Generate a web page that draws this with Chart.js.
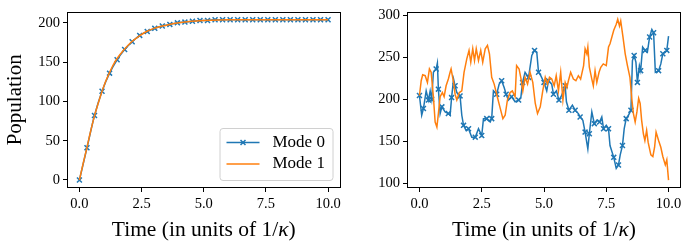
<!DOCTYPE html>
<html>
<head>
<meta charset="utf-8">
<script src="https://cdn.jsdelivr.net/npm/chart.js@4.4.0/dist/chart.umd.min.js"></script>
<style>
  html, body { margin: 0; padding: 0; background: #fff; }
  #wrap { position: relative; width: 692px; height: 248px; }
  canvas { position: absolute; top: 0; }
</style>
</head>
<body>
<div id="wrap">
  <canvas id="leftChart" width="346" height="248" style="left:0"></canvas>
  <canvas id="rightChart" width="346" height="248" style="left:346px"></canvas>
</div>
<script>
// data

// left panel: mean populations
const meanTimes0 = [0, 0.303, 0.606, 0.909, 1.212, 1.515, 1.818, 2.121, 2.424, 2.727,
  3.030, 3.333, 3.636, 3.939, 4.242, 4.545, 4.848, 5.152, 5.455, 5.758,
  6.061, 6.364, 6.667, 6.970, 7.273, 7.576, 7.879, 8.182, 8.485, 8.788,
  9.091, 9.394, 9.697, 10.0];
const meanMode0 = [0, 41, 82, 113, 136, 153, 166, 176, 184, 189,
  193, 196, 198, 200, 201, 202, 203, 203, 204, 204,
  204, 204, 204, 204, 204, 204, 204, 204, 204, 204,
  204, 204, 204, 204];
const meanTimes1 = [0, 0.15, 0.3, 0.45, 0.6, 0.75, 0.9, 1.05, 1.2, 1.35,
  1.5, 1.8, 2.1, 2.4, 2.7, 3.0, 3.5, 4.0, 4.5, 5.0,
  6.0, 7.0, 8.0, 9.0, 10.0];
const meanMode1 = [0, 21, 41, 62, 81, 97, 112, 125, 136, 146,
  154, 166, 176, 183, 189, 193, 197, 200, 202, 203,
  204, 204, 204, 204, 204];

// right panel: one stochastic run
const runTimes0 = [0, 0.09, 0.16, 0.27, 0.36, 0.43, 0.49, 0.56, 0.67, 0.72,
  0.76, 0.83, 0.9, 1.03, 1.16, 1.23, 1.29, 1.37, 1.43, 1.5,
  1.63, 1.7, 1.77, 1.87, 1.97, 2.1, 2.24, 2.37, 2.5, 2.57,
  2.7, 2.84, 2.9, 2.97, 3.1, 3.2, 3.3, 3.4, 3.48, 3.57,
  3.7, 3.84, 3.98, 4.07, 4.14, 4.24, 4.38, 4.51, 4.62, 4.71,
  4.78, 4.87, 5.0, 5.11, 5.18, 5.31, 5.38, 5.5, 5.6, 5.7,
  5.85, 5.9, 6.0, 6.14, 6.25, 6.38, 6.45, 6.56, 6.65, 6.76,
  6.82, 6.92, 7.02, 7.12, 7.23, 7.32, 7.39, 7.5, 7.59, 7.65,
  7.8, 7.9, 7.99, 8.06, 8.15, 8.22, 8.3, 8.39, 8.49, 8.55,
  8.62, 8.69, 8.75, 8.83, 8.88, 8.96, 9.06, 9.15, 9.24, 9.33,
  9.4, 9.47, 9.6, 9.69, 9.77, 9.87, 9.93, 10.0];
const runMode0 = [204.5, 181, 189, 210, 199, 210, 200, 232, 236, 243,
  212, 183, 191, 185, 183, 181, 202, 224, 216, 208,
  204, 181, 169, 163, 165, 155, 155, 165, 157, 177,
  177, 173, 177, 210, 206, 218, 222, 214, 206, 199,
  203, 197, 199, 202, 220, 232, 226, 252, 258, 256,
  232, 228, 220, 210, 222, 218, 206, 210, 199, 204,
  216, 197, 187, 193, 187, 183, 179, 175, 161, 141,
  159, 185, 171, 175, 173, 179, 165, 169, 165, 145,
  131, 118, 122, 134, 145, 165, 177, 181, 187, 246,
  252, 244, 220, 240, 234, 262, 258, 256, 274, 283,
  279, 232, 234, 242, 254, 256, 258, 275];
const runTimes1 = [0, 0.07, 0.13, 0.23, 0.32, 0.4, 0.47, 0.56, 0.63, 0.7,
  0.76, 0.83, 0.92, 0.99, 1.07, 1.16, 1.23, 1.27, 1.37, 1.43,
  1.5, 1.6, 1.7, 1.79, 1.9, 1.99, 2.06, 2.14, 2.21, 2.28,
  2.37, 2.46, 2.54, 2.64, 2.73, 2.81, 2.9, 3.0, 3.1, 3.21,
  3.35, 3.44, 3.53, 3.64, 3.73, 3.84, 3.9, 4.0, 4.08, 4.15,
  4.24, 4.34, 4.44, 4.55, 4.65, 4.74, 4.85, 4.95, 5.05, 5.14,
  5.22, 5.31, 5.41, 5.49, 5.58, 5.67, 5.76, 5.85, 5.92, 5.98,
  6.07, 6.18, 6.28, 6.38, 6.47, 6.59, 6.65, 6.72, 6.76, 6.82,
  6.92, 6.98, 7.05, 7.12, 7.21, 7.28, 7.38, 7.5, 7.59, 7.65,
  7.8, 7.9, 7.96, 8.03, 8.08, 8.17, 8.26, 8.35, 8.45, 8.53,
  8.59, 8.66, 8.73, 8.8, 8.86, 8.92, 8.99, 9.05, 9.12, 9.18,
  9.29, 9.37, 9.44, 9.5, 9.6, 9.69, 9.77, 9.87, 9.93, 10.0];
const runMode1 = [204.5, 222, 229, 228, 220, 236, 232, 203, 173, 167,
  183, 203, 208, 203, 216, 224, 232, 236, 220, 206,
  199, 208, 210, 232, 248, 258, 244, 260, 246, 260,
  246, 258, 244, 260, 264, 254, 226, 218, 206, 193,
  177, 181, 199, 208, 210, 203, 240, 236, 224, 210,
  226, 218, 232, 220, 195, 183, 191, 210, 226, 218,
  226, 224, 216, 228, 210, 232, 199, 220, 214, 222,
  232, 224, 222, 228, 224, 240, 260, 254, 262, 238,
  224, 216, 234, 220, 232, 238, 242, 240, 262, 266,
  282, 289, 295, 287, 293, 274, 254, 240, 226, 199,
  183, 173, 185, 201, 195, 175, 159, 151, 163, 149,
  134, 132, 143, 161, 151, 143, 132, 122, 128, 104];

const timeTicks = [0, 2.5, 5, 7.5, 10];
const leftPopTicks = [0, 50, 100, 150, 200];
const rightPopTicks = [100, 150, 200, 250, 300];
const seriesNames = ['Mode 0', 'Mode 1'];

const BLUE = '#1f77b4';
const ORANGE = '#ff7f0e';
const SERIF = '"Liberation Serif", "DejaVu Serif", serif';

function pts(xs, ys){ return xs.map((x, i) => ({x, y: ys[i]})); }

// box round the plot area + x title with italic kappa
const framePlugin = {
  id: 'frame',
  afterDraw(chart){
    const ctx = chart.ctx, a = chart.chartArea;
    ctx.save();
    ctx.strokeStyle = '#000';
    ctx.lineWidth = 1;
    ctx.strokeRect(Math.round(a.left) + 0.5, Math.round(a.top) + 0.5,
      Math.round(a.right - a.left) - 1, Math.round(a.bottom - a.top) - 1);

    const parts = [['Time (in units of 1/', 'normal'], ['\u03ba', 'italic'], [')', 'normal']];
    let total = 0;
    const widths = parts.map(p => {
      ctx.font = `${p[1]} 21.5px ${SERIF}`;
      const w = ctx.measureText(p[0]).width;
      total += w;
      return w;
    });
    let x = (a.left + a.right) / 2 - total / 2;
    ctx.fillStyle = '#000';
    ctx.textBaseline = 'middle';
    ctx.textAlign = 'left';
    parts.forEach((p, i) => {
      ctx.font = `${p[1]} 21.5px ${SERIF}`;
      ctx.fillText(p[0], x, 230);
      x += widths[i];
    });
    ctx.restore();
  }
};

// legend in lower right corner of the left panel
const legendPlugin = {
  id: 'boxLegend',
  afterDraw(chart){
    if(!chart.options.plugins.boxLegend || !chart.options.plugins.boxLegend.show) return;
    const ctx = chart.ctx, a = chart.chartArea;
    const w = 113, h = 52;
    const bx = a.right - 8 - w, by = a.bottom - 8 - h;
    ctx.save();
    ctx.beginPath();
    ctx.roundRect(bx + 0.5, by + 0.5, w, h, 3);
    ctx.fillStyle = 'rgba(255,255,255,0.8)';
    ctx.fill();
    ctx.strokeStyle = '#d0d0d0';
    ctx.lineWidth = 1;
    ctx.stroke();
    const rows = [{c: BLUE, y: by + 14.5, mark: true}, {c: ORANGE, y: by + 36, mark: false}];
    rows.forEach((r, i) => {
      ctx.strokeStyle = r.c;
      ctx.lineWidth = 1.5;
      ctx.beginPath();
      ctx.moveTo(bx + 7, r.y);
      ctx.lineTo(bx + 40, r.y);
      ctx.stroke();
      if(r.mark){
        Chart.helpers.drawPoint(ctx, {pointStyle: 'crossRot', radius: 3.5, borderWidth: 1.5}, bx + 23.5, r.y);
      }
      ctx.fillStyle = '#000';
      ctx.font = `17px ${SERIF}`;
      ctx.textBaseline = 'middle';
      ctx.fillText(seriesNames[i], bx + 53, r.y);
    });
    ctx.restore();
  }
};

function axisTicks(values){
  return (scale) => { scale.ticks = values.map(v => ({value: v})); };
}

function makeOptions(yMin, yMax, yTicks, yWidth, padLeft, padRight, showTitle, showLegend){
  const tickFont = {family: SERIF, size: 14.5};
  const grid = {display: true, drawOnChartArea: false, drawTicks: true, tickLength: 4,
    color: '#000', tickColor: '#000', tickWidth: 1};
  return {
    responsive: false,
    animation: false,
    devicePixelRatio: 1,
    layout: {padding: {top: 11, right: padRight, left: padLeft, bottom: 0}},
    plugins: {
      legend: {display: false},
      tooltip: {enabled: false},
      boxLegend: {show: showLegend}
    },
    scales: {
      x: {
        type: 'linear', min: -0.5, max: 10.5,
        afterBuildTicks: axisTicks(timeTicks),
        afterFit: (s) => { s.height = 60; },
        grid, border: {display: false},
        ticks: {font: tickFont, color: '#000', padding: 3, maxRotation: 0,
          callback: v => v.toFixed(1)}
      },
      y: {
        type: 'linear', min: yMin, max: yMax,
        afterBuildTicks: axisTicks(yTicks),
        afterFit: (s) => { s.width = yWidth; },
        grid, border: {display: false},
        ticks: {font: tickFont, color: '#000', padding: 3},
        title: {display: showTitle, text: 'Population', color: '#000',
          font: {family: SERIF, size: 21}, padding: {top: 3, bottom: 0}}
      }
    }
  };
}

new Chart(document.getElementById('leftChart'), {
  type: 'line',
  data: {
    datasets: [
      {label: seriesNames[0], data: pts(meanTimes0, meanMode0), order: 1,
        borderColor: BLUE, backgroundColor: BLUE, borderWidth: 1.5,
        cubicInterpolationMode: 'monotone',
        pointStyle: 'crossRot', pointRadius: 3.5, pointBorderWidth: 1.5, pointBorderColor: BLUE},
      {label: seriesNames[1], data: pts(meanTimes1, meanMode1), order: 0,
        borderColor: ORANGE, backgroundColor: ORANGE, borderWidth: 1.5,
        cubicInterpolationMode: 'monotone', pointRadius: 0}
    ]
  },
  options: makeOptions(-10.2, 214.2, leftPopTicks, 67, 0, 5, true, true),
  plugins: [framePlugin, legendPlugin]
});

new Chart(document.getElementById('rightChart'), {
  type: 'line',
  data: {
    datasets: [
      {label: seriesNames[0], data: pts(runTimes0, runMode0), order: 1,
        borderColor: BLUE, backgroundColor: BLUE, borderWidth: 1.5, tension: 0,
        pointStyle: 'crossRot', pointBorderWidth: 1.5, pointBorderColor: BLUE,
        pointRadius: c => (c.dataIndex % 2 === 0 ? 3.5 : 0)},
      {label: seriesNames[1], data: pts(runTimes1, runMode1), order: 0,
        borderColor: ORANGE, backgroundColor: ORANGE, borderWidth: 1.5, tension: 0,
        pointRadius: 0}
    ]
  },
  options: makeOptions(94.6, 304, rightPopTicks, 61, 0, 11, false, false),
  plugins: [framePlugin, legendPlugin]
});
</script>
</body>
</html>
